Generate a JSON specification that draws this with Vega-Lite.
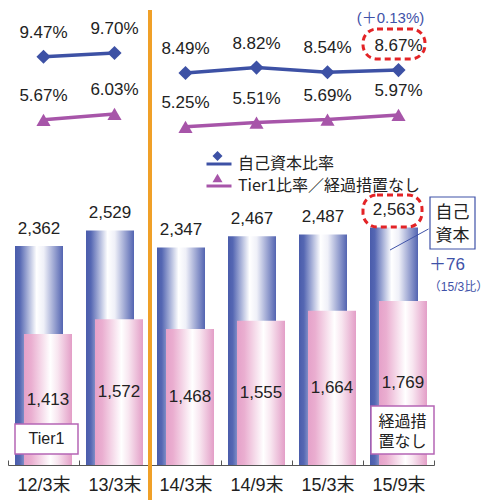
{
  "$schema": "https://vega.github.io/schema/vega-lite/v6.json",
  "autosize": "none",
  "width": 426,
  "height": 465,
  "padding": {"left": 8, "top": 0, "right": 56, "bottom": 35},
  "background": "white",
  "config": {
    "view": {"stroke": null},
    "font": "Liberation Sans, Noto Sans CJK JP",
    "axisX": {"domainColor": "#555", "domainWidth": 1, "tickColor": "#555", "tickSize": -5, "tickBand": "extent", "labelFontSize": 18, "labelColor": "#222", "labelFont": "Liberation Sans, Noto Sans CJK JP", "labelPadding": 16, "labelAngle": 0, "grid": false, "title": null}
  },
  "datasets": {
    "amounts": [
      {"cat": "12/3末", "capital": 2362, "tier1": 1413},
      {"cat": "13/3末", "capital": 2529, "tier1": 1572},
      {"cat": "14/3末", "capital": 2347, "tier1": 1468},
      {"cat": "14/9末", "capital": 2467, "tier1": 1555},
      {"cat": "15/3末", "capital": 2487, "tier1": 1664},
      {"cat": "15/9末", "capital": 2563, "tier1": 1769}
    ],
    "ratios": [
      {"cat": "12/3末", "series": "自己資本比率", "period": "旧", "ratio": 0.0947},
      {"cat": "13/3末", "series": "自己資本比率", "period": "旧", "ratio": 0.0970},
      {"cat": "14/3末", "series": "自己資本比率", "period": "新", "ratio": 0.0849},
      {"cat": "14/9末", "series": "自己資本比率", "period": "新", "ratio": 0.0882},
      {"cat": "15/3末", "series": "自己資本比率", "period": "新", "ratio": 0.0854},
      {"cat": "15/9末", "series": "自己資本比率", "period": "新", "ratio": 0.0867},
      {"cat": "12/3末", "series": "Tier1比率／経過措置なし", "period": "旧", "ratio": 0.0567},
      {"cat": "13/3末", "series": "Tier1比率／経過措置なし", "period": "旧", "ratio": 0.0603},
      {"cat": "14/3末", "series": "Tier1比率／経過措置なし", "period": "新", "ratio": 0.0525},
      {"cat": "14/9末", "series": "Tier1比率／経過措置なし", "period": "新", "ratio": 0.0551},
      {"cat": "15/3末", "series": "Tier1比率／経過措置なし", "period": "新", "ratio": 0.0569},
      {"cat": "15/9末", "series": "Tier1比率／経過措置なし", "period": "新", "ratio": 0.0597}
    ]
  },
  "layer": [
    {
      "layer": [
        {
          "data": {"name": "amounts"},
          "mark": {"type": "bar", "width": 48, "xOffset": -4.5, "color": {"gradient": "linear", "x1": 0, "y1": 0, "x2": 1, "y2": 0, "stops": [{"offset": 0, "color": "#4a5cab"}, {"offset": 0.1, "color": "#5567b3"}, {"offset": 0.45, "color": "#ffffff"}, {"offset": 0.6, "color": "#eff0f8"}, {"offset": 1, "color": "#5364b1"}]}},
          "encoding": {
            "x": {"field": "cat", "type": "nominal", "title": null, "scale": {"domain": ["12/3末", "13/3末", "14/3末", "14/9末", "15/3末", "15/9末"], "paddingInner": 0, "paddingOuter": 0}},
            "y": {"field": "capital", "type": "quantitative", "axis": null, "scale": {"domain": [0, 5016], "nice": false, "zero": false}}
          }
        },
        {
          "data": {"name": "amounts"},
          "mark": {"type": "bar", "width": 48, "xOffset": 4.5, "color": {"gradient": "linear", "x1": 0, "y1": 0, "x2": 1, "y2": 0, "stops": [{"offset": 0, "color": "#e5a1c9"}, {"offset": 0.15, "color": "#eaaed0"}, {"offset": 0.55, "color": "#ffffff"}, {"offset": 0.7, "color": "#f8e6f0"}, {"offset": 1, "color": "#e39ec7"}]}},
          "encoding": {
            "x": {"field": "cat", "type": "nominal", "title": null},
            "y": {"field": "tier1", "type": "quantitative", "axis": null}
          }
        },
        {
          "data": {"values": [{"cat": "14/3末"}]},
          "mark": {"type": "rule", "color": "#f0a028", "strokeWidth": 4},
          "encoding": {
            "x": {"field": "cat", "type": "nominal", "title": null, "bandPosition": 0},
            "y": {"datum": 4908, "type": "quantitative", "axis": null},
            "y2": {"datum": -378}
          }
        },
        {
          "data": {"name": "amounts"},
          "mark": {"type": "text", "dx": -4.5, "dy": -17.5, "baseline": "middle", "fontSize": 17, "color": "#222", "font": "Liberation Sans"},
          "encoding": {
            "x": {"field": "cat", "type": "nominal", "title": null},
            "y": {"field": "capital", "type": "quantitative", "axis": null},
            "text": {"field": "capital", "type": "quantitative", "format": ",d"}
          }
        },
        {
          "data": {"values": [{"cat": "15/9末"}]},
          "mark": {"type": "bar", "width": 59, "xOffset": -6, "cornerRadius": 14, "fillOpacity": 0, "stroke": "#e32326", "strokeWidth": 3, "strokeDash": [6, 4]},
          "encoding": {
            "x": {"field": "cat", "type": "nominal", "title": null},
            "y": {"datum": 2913, "type": "quantitative", "axis": null},
            "y2": {"datum": 2567}
          }
        },
        {
          "data": {"values": [{"cat": "15/9末"}]},
          "mark": {"type": "rule", "color": "#3f52a8", "strokeWidth": 1, "xOffset": 30, "x2Offset": -8.5},
          "encoding": {
            "x": {"field": "cat", "type": "nominal", "title": null},
            "x2": {"field": "cat"},
            "y": {"datum": 2546, "type": "quantitative", "axis": null},
            "y2": {"datum": 2319}
          }
        },
        {
          "data": {"values": [{"cat": "15/9末"}]},
          "mark": {"type": "bar", "width": 45, "xOffset": 54, "fill": "white", "stroke": "#3f52a8", "strokeWidth": 1.2},
          "encoding": {
            "x": {"field": "cat", "type": "nominal", "title": null},
            "y": {"datum": 2891, "type": "quantitative", "axis": null},
            "y2": {"datum": 2330}
          }
        },
        {
          "data": {"values": [{"cat": "15/9末", "note": "自己\n資本"}]},
          "mark": {"type": "text", "dx": 54, "dy": -11.5, "baseline": "middle", "lineBreak": "\n", "lineHeight": 23, "fontSize": 17, "color": "#222", "font": "Noto Sans CJK JP"},
          "encoding": {
            "x": {"field": "cat", "type": "nominal", "title": null},
            "y": {"datum": 2589, "type": "quantitative", "axis": null},
            "text": {"field": "note"}
          }
        },
        {
          "data": {"values": [{"cat": "15/9末", "note": "＋76"}]},
          "mark": {"type": "text", "dx": 48.5, "baseline": "middle", "fontSize": 17, "color": "#3f52a8"},
          "encoding": {
            "x": {"field": "cat", "type": "nominal", "title": null},
            "y": {"datum": 2157, "type": "quantitative", "axis": null},
            "text": {"field": "note"}
          }
        },
        {
          "data": {"values": [{"cat": "15/9末", "note": "（15/3比）"}]},
          "mark": {"type": "text", "dx": 60, "baseline": "middle", "fontSize": 12, "color": "#3f52a8"},
          "encoding": {
            "x": {"field": "cat", "type": "nominal", "title": null},
            "y": {"datum": 1920, "type": "quantitative", "axis": null},
            "text": {"field": "note"}
          }
        },
        {
          "data": {"values": [{"cat": "12/3末"}]},
          "mark": {"type": "bar", "width": 63, "xOffset": 3, "fill": "white", "stroke": "#b565b5", "strokeWidth": 1.5},
          "encoding": {
            "x": {"field": "cat", "type": "nominal", "title": null},
            "y": {"datum": 442, "type": "quantitative", "axis": null},
            "y2": {"datum": 119}
          }
        },
        {
          "data": {"values": [{"cat": "12/3末", "note": "Tier1"}]},
          "mark": {"type": "text", "dx": 3, "baseline": "middle", "fontSize": 16, "color": "#222"},
          "encoding": {
            "x": {"field": "cat", "type": "nominal", "title": null},
            "y": {"datum": 280, "type": "quantitative", "axis": null},
            "text": {"field": "note"}
          }
        },
        {
          "data": {"values": [{"cat": "15/9末"}]},
          "mark": {"type": "bar", "width": 63, "xOffset": 4, "fill": "white", "stroke": "#b565b5", "strokeWidth": 1.5},
          "encoding": {
            "x": {"field": "cat", "type": "nominal", "title": null},
            "y": {"datum": 636, "type": "quantitative", "axis": null},
            "y2": {"datum": 119}
          }
        },
        {
          "data": {"values": [{"cat": "15/9末", "note": "経過措\n置なし"}]},
          "mark": {"type": "text", "dx": 4, "dy": -10, "baseline": "middle", "lineBreak": "\n", "lineHeight": 20, "fontSize": 16, "color": "#222", "font": "Noto Sans CJK JP"},
          "encoding": {
            "x": {"field": "cat", "type": "nominal", "title": null},
            "y": {"datum": 356, "type": "quantitative", "axis": null},
            "text": {"field": "note"}
          }
        }
      ]
    },
    {
      "data": {"name": "amounts"},
      "mark": {"type": "text", "dx": 4.5, "baseline": "middle", "fontSize": 17, "color": "#222", "font": "Liberation Sans"},
      "encoding": {
        "x": {"field": "cat", "type": "nominal", "title": null},
        "y": {"field": "tier1", "type": "quantitative", "axis": null, "scale": {"domain": [0, 10032], "nice": false, "zero": false}},
        "text": {"field": "tier1", "type": "quantitative", "format": ",d"}
      }
    },
    {
      "layer": [
        {
          "data": {"name": "ratios"},
          "mark": {"type": "line", "strokeWidth": 3.5},
          "encoding": {
            "x": {"field": "cat", "type": "nominal", "title": null},
            "y": {"field": "ratio", "type": "quantitative", "axis": null, "scale": {"domain": [-0.1512, 0.1289], "nice": false, "zero": false}},
            "color": {"field": "series", "type": "nominal", "sort": null, "scale": {"domain": ["自己資本比率", "Tier1比率／経過措置なし"], "range": ["#3d51a5", "#a755a9"]},
              "legend": {"orient": "none", "legendX": 197, "legendY": 150, "title": null, "labelFont": "Noto Sans CJK JP", "labelFontSize": 16, "labelColor": "#222", "labelLimit": 400, "symbolType": "stroke", "symbolSize": 625, "symbolStrokeWidth": 3, "labelOffset": 5, "rowPadding": -4, "padding": 0}},
            "detail": {"field": "period", "type": "nominal"}
          }
        },
        {
          "data": {"name": "ratios"},
          "mark": {"type": "point", "filled": true, "opacity": 1, "size": 200},
          "encoding": {
            "x": {"field": "cat", "type": "nominal", "title": null},
            "y": {"field": "ratio", "type": "quantitative", "axis": null},
            "fill": {"field": "series", "type": "nominal",
              "scale": {"domain": ["自己資本比率", "Tier1比率／経過措置なし", "－"], "range": ["#3d51a5", "#a755a9", "#999999"]},
              "legend": {"orient": "none", "legendX": 204.5, "legendY": 151, "title": null, "values": ["自己資本比率", "Tier1比率／経過措置なし"], "labelFontSize": 1, "labelColor": "transparent", "labelLimit": 400, "symbolSize": 100, "symbolStrokeWidth": 0, "symbolOpacity": 1, "rowPadding": 12, "padding": 0}},
            "shape": {"field": "series", "type": "nominal",
              "scale": {"domain": ["自己資本比率", "Tier1比率／経過措置なし", "－"], "range": ["diamond", "triangle-up", "circle"]}}
          }
        },
        {
          "data": {"name": "ratios"},
          "mark": {"type": "text", "dy": -24, "baseline": "middle", "fontSize": 17, "color": "#222", "font": "Liberation Sans"},
          "encoding": {
            "x": {"field": "cat", "type": "nominal", "title": null},
            "y": {"field": "ratio", "type": "quantitative", "axis": null},
            "text": {"field": "ratio", "type": "quantitative", "format": ".2%"}
          }
        },
        {
          "data": {"values": [{"cat": "15/9末"}]},
          "mark": {"type": "bar", "width": 62, "xOffset": -4.5, "cornerRadius": 14, "fillOpacity": 0, "stroke": "#e32326", "strokeWidth": 3, "strokeDash": [6, 4]},
          "encoding": {
            "x": {"field": "cat", "type": "nominal", "title": null},
            "y": {"datum": 0.11146, "type": "quantitative", "axis": null},
            "y2": {"datum": 0.09339}
          }
        },
        {
          "data": {"values": [{"cat": "15/9末", "note": "(＋0.13%)"}]},
          "mark": {"type": "text", "dx": -8, "dy": -52, "baseline": "middle", "fontSize": 15, "color": "#3f52a8"},
          "encoding": {
            "x": {"field": "cat", "type": "nominal", "title": null},
            "y": {"datum": 0.0867, "type": "quantitative", "axis": null},
            "text": {"field": "note"}
          }
        }
      ]
    }
  ],
  "resolve": {"scale": {"y": "independent"}}
}
